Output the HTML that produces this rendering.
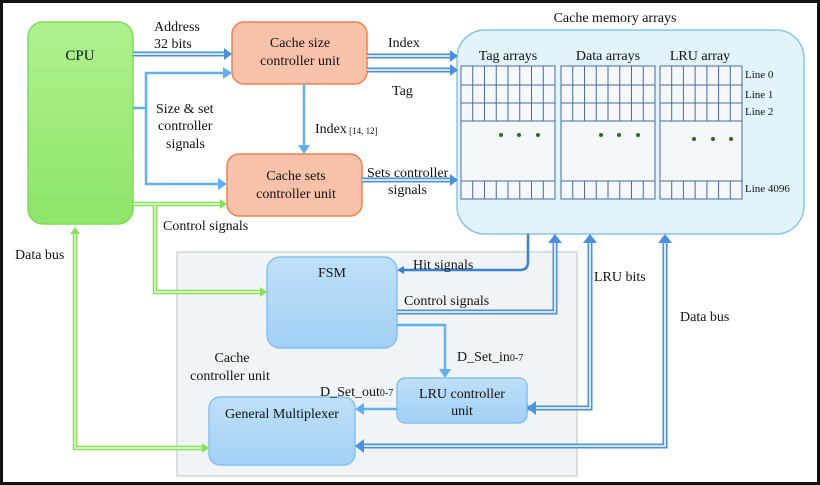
<!DOCTYPE html>
<html><head><meta charset="utf-8"><style>
html,body{margin:0;padding:0;background:#fff}
svg{display:block}
text{font-family:"Liberation Serif",serif;fill:#111}
</style></head><body>
<svg width="820" height="485" viewBox="0 0 820 485" xmlns="http://www.w3.org/2000/svg">
<defs>
<linearGradient id="g" x1="0" y1="0" x2="0" y2="1"><stop offset="0" stop-color="#aef28e"/><stop offset="1" stop-color="#8ee468"/></linearGradient>
<linearGradient id="b" x1="0" y1="0" x2="0" y2="1"><stop offset="0" stop-color="#bfe0fa"/><stop offset="1" stop-color="#a2d0f4"/></linearGradient>
</defs>
<rect x="1.5" y="1.5" width="817" height="482" fill="#fff" stroke="#111" stroke-width="3"/>

<!-- cache controller region -->
<rect x="177" y="252" width="400" height="224" fill="#f1f4f6" stroke="#cdd5d8" stroke-width="1.5"/>
<text x="232" y="362" font-size="14" text-anchor="middle">Cache</text>
<text x="230" y="380" font-size="14" text-anchor="middle">controller unit</text>

<!-- CPU -->
<rect x="28" y="22" width="105" height="202" rx="15" fill="url(#g)" stroke="#80dc58" stroke-width="1.5"/>
<text x="80" y="60" font-size="15" text-anchor="middle">CPU</text>

<!-- cache size / sets -->
<rect x="232" y="22" width="135" height="62" rx="12" fill="#f8c2aa" stroke="#f08050" stroke-width="1.5"/>
<text x="300" y="47" font-size="14" text-anchor="middle">Cache size</text>
<text x="300" y="65" font-size="14" text-anchor="middle">controller unit</text>
<rect x="227" y="154" width="135" height="62" rx="12" fill="#f8c2aa" stroke="#f08050" stroke-width="1.5"/>
<text x="296" y="180" font-size="14" text-anchor="middle">Cache sets</text>
<text x="296" y="198" font-size="14" text-anchor="middle">controller unit</text>

<!-- cache memory arrays -->
<text x="615" y="22" font-size="14" text-anchor="middle">Cache memory arrays</text>
<rect x="457" y="30" width="347" height="204" rx="28" fill="#e1f4fc" stroke="#88c4f0" stroke-width="1.5"/>
<text x="508" y="60" font-size="14" text-anchor="middle">Tag arrays</text>
<text x="608" y="60" font-size="14" text-anchor="middle">Data arrays</text>
<text x="700" y="60" font-size="14" text-anchor="middle">LRU array</text>
<g fill="#f4f8fa" stroke="#4a6a9a" stroke-width="1">
<rect x="461" y="66" width="94" height="133"/>
<rect x="561" y="66" width="94" height="133"/>
<rect x="660" y="66" width="82" height="133"/>
</g>
<path stroke="#4a6a9a" stroke-width="1" fill="none" d="
M461 85H555M461 103H555M461 121H555M461 181H555
M561 85H655M561 103H655M561 121H655M561 181H655
M660 85H742M660 103H742M660 121H742M660 181H742
M472.75 66V121M484.5 66V121M496.25 66V121M508 66V121M519.75 66V121M531.5 66V121M543.25 66V121
M472.75 181V199M484.5 181V199M496.25 181V199M508 181V199M519.75 181V199M531.5 181V199M543.25 181V199
M572.75 66V121M584.5 66V121M596.25 66V121M608 66V121M619.75 66V121M631.5 66V121M643.25 66V121
M572.75 181V199M584.5 181V199M596.25 181V199M608 181V199M619.75 181V199M631.5 181V199M643.25 181V199
M671.7 66V121M683.4 66V121M695.1 66V121M706.9 66V121M718.6 66V121M730.3 66V121
M671.7 181V199M683.4 181V199M695.1 181V199M706.9 181V199M718.6 181V199M730.3 181V199"/>
<g fill="#2a6a1a"><circle cx="501" cy="135" r="2"/><circle cx="519" cy="135" r="2"/><circle cx="538" cy="135" r="2"/>
<circle cx="601" cy="135" r="2"/><circle cx="619" cy="135" r="2"/><circle cx="638" cy="135" r="2"/>
<circle cx="694" cy="139" r="2"/><circle cx="713" cy="139" r="2"/><circle cx="731" cy="139" r="2"/></g>
<g font-size="11"><text x="745" y="78">Line 0</text><text x="745" y="98">Line 1</text><text x="745" y="115">Line 2</text><text x="745" y="192">Line 4096</text></g>

<!-- FSM, LRU, GM -->
<rect x="267" y="257" width="130" height="91" rx="13" fill="url(#b)" stroke="#86c2f0" stroke-width="1.5"/>
<text x="332" y="277" font-size="14" text-anchor="middle">FSM</text>
<rect x="397" y="378" width="130" height="45" rx="8" fill="url(#b)" stroke="#86c2f0" stroke-width="1.5"/>
<text x="462" y="398" font-size="14" text-anchor="middle">LRU controller</text>
<text x="462" y="415" font-size="14" text-anchor="middle">unit</text>
<rect x="209" y="397" width="146" height="68" rx="11" fill="url(#b)" stroke="#86c2f0" stroke-width="1.5"/>
<text x="282" y="418" font-size="14" text-anchor="middle">General Multiplexer</text>

<!-- double blue arrows -->
<g fill="none" stroke-linejoin="miter">
<g stroke="#4a90dc" stroke-width="5"><path d="M133 54H226"/><path d="M367 56H452"/><path d="M367 70H452"/><path d="M362 180H452"/>
<path d="M397 312H555V240"/><path d="M527 408H590V240"/><path d="M361 446H665V240"/></g>
<g stroke="#fff" stroke-width="1.6"><path d="M133 54H226"/><path d="M367 56H452"/><path d="M367 70H452"/><path d="M362 180H452"/>
<path d="M397 312H555V240"/><path d="M527 408H590V240"/><path d="M361 446H665V240"/></g>
</g>
<g fill="#4a90dc"><path d="M232 54l-8-6v12z"/><path d="M458 56l-8-6v12z"/><path d="M458 70l-8-6v12z"/><path d="M458 180l-8-6v12z"/>
<path d="M555 234l-7 9h14z"/><path d="M590 234l-7 9h14z"/><path d="M665 234l-7 9h14z"/><path d="M527 408l9-7v14z"/><path d="M355 446l9-7v14z"/></g>
<!-- hit signals -->
<path d="M528 234V262q0 8-8 8H401" fill="none" stroke="#3a80d0" stroke-width="2.5"/>
<path d="M397 270l7-4v8z" fill="#3a80d0"/>

<!-- light blue single arrows -->
<g fill="none" stroke="#60b0f4" stroke-width="2.5">
<path d="M133 108H146V73H224"/><path d="M146 108V184H219"/><path d="M304 84V146"/>
<path d="M397 325H445V370"/><path d="M397 409H363"/></g>
<g fill="#60b0f4"><path d="M232 73l-9-6v12z"/><path d="M227 184l-9-6v12z"/><path d="M304 154l-6-9h12z"/><path d="M445 378l-6-9h12z"/><path d="M355 409l9-6v12z"/></g>

<!-- green double arrows -->
<g fill="none"><g stroke="#86e05a" stroke-width="4.5"><path d="M133 204H221"/><path d="M155 204V292H261"/><path d="M75 234V448H203"/></g>
<g stroke="#eaffdf" stroke-width="1.4"><path d="M133 204H221"/><path d="M155 204V292H261"/><path d="M75 234V448H203"/></g></g>
<g fill="#86e05a"><path d="M227 204l-7-5v10z"/><path d="M267 292l-7-5v10z"/><path d="M209 448l-7-5v10z"/><path d="M75 227l-5 7h10z"/></g>

<!-- labels -->
<g font-size="14">
<text x="154" y="31">Address</text><text x="154" y="48">32 bits</text>
<text x="156" y="113">Size &amp; set</text><text x="158" y="130">controller</text><text x="166" y="148">signals</text>
<text x="315" y="133">Index<tspan font-size="9" dy="1"> [14, 12]</tspan></text>
<text x="388" y="47">Index</text><text x="392" y="95">Tag</text>
<text x="367" y="177">Sets controller</text><text x="388" y="194">signals</text>
<text x="163" y="230">Control signals</text>
<text x="15" y="259">Data bus</text>
<text x="413" y="269">Hit signals</text>
<text x="404" y="305">Control signals</text>
<text x="594" y="281">LRU bits</text>
<text x="680" y="321">Data bus</text>
<text x="457" y="361">D_Set_in<tspan font-size="10">0-7</tspan></text>
<text x="320" y="396">D_Set_out<tspan font-size="10">0-7</tspan></text>
</g>
</svg>
</body></html>
